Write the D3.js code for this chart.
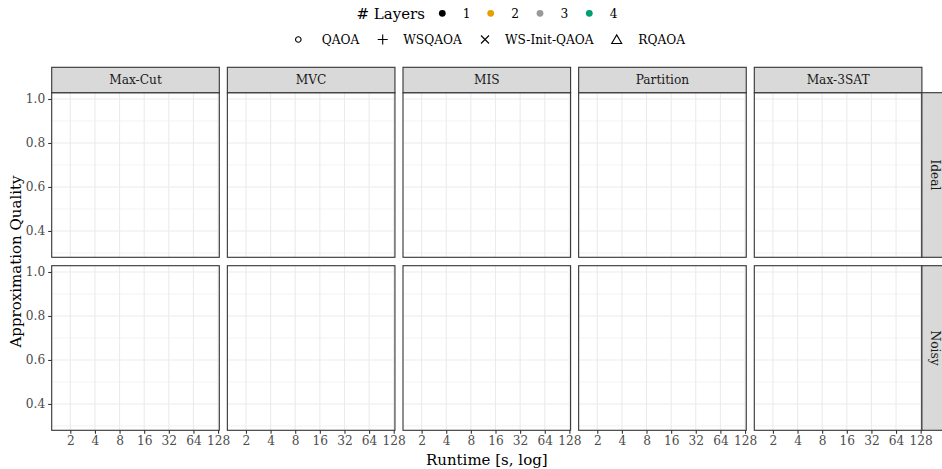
<!DOCTYPE html>
<html>
<head>
<meta charset="utf-8">
<script src="https://cdn.jsdelivr.net/npm/d3@7"></script>
<style>
  body { margin: 0; background: #fff; }
  svg { display: block; font-family: "DejaVu Serif", serif; }
</style>
</head>
<body>
<div id="chart"></div>
<script>
// facets
const problems = ["Max-Cut", "MVC", "MIS", "Partition", "Max-3SAT"];
const conditions = ["Ideal", "Noisy"];

// axes
const xTicks = [2, 4, 8, 16, 32, 64, 128];
const yTicks = [0.4, 0.6, 0.8, 1.0];
const yMinor = [0.3, 0.5, 0.7, 0.9];

// legends
const layers = ["1", "2", "3", "4"];
const layerColors = ["#000000", "#E69F00", "#999999", "#009E73"];
const methods = ["QAOA", "WSQAOA", "WS-Init-QAOA", "RQAOA"];

// the reference shows no plotted observations
const points = [];

const width = 942, height = 469;
const panelW = 167.6, panelH = 164.6, gapX = 8.05, gapY = 8.4;
const left0 = 51.7, top0 = 92.7;
const small = "12.2px", big = "15px";

const svg = d3.select("#chart").append("svg")
    .attr("width", width)
    .attr("height", height);

const x = d3.scaleLog().base(2)
    .domain([Math.pow(2, 0.244), Math.pow(2, 7.05)])
    .range([0, panelW]);
const y = d3.scaleLinear()
    .domain([0.2803, 1.0286])
    .range([panelH, 0]);

const color = d3.scaleOrdinal().domain(layers).range(layerColors);

// thin ggplot-like shapes (0 circle, 3 plus, 4 cross, 2 triangle)
function shapePath(method) {
    if (method === "QAOA") return d3.symbol().type(d3.symbolCircle).size(24)();
    if (method === "WSQAOA") return "M-5,0H5M0,-5V5";
    if (method === "WS-Init-QAOA") return "M-4,-4L4,4M-4,4L4,-4";
    return "M0,-4.6L5,4L-5,4Z";
}

conditions.forEach(function (cond, r) {
    problems.forEach(function (prob, c) {
        let px = left0 + c * (panelW + gapX);
        let py = top0 + r * (panelH + gapY);
        let g = svg.append("g").attr("transform", "translate(" + px + "," + py + ")");

        g.append("rect").attr("width", panelW).attr("height", panelH).attr("fill", "#fff");

        g.selectAll(".ymin").data(yMinor).enter().append("line")
            .attr("x1", 0).attr("x2", panelW)
            .attr("y1", d => y(d)).attr("y2", d => y(d))
            .attr("stroke", "#ebebeb").attr("stroke-width", 0.6);
        g.selectAll(".ymaj").data(yTicks).enter().append("line")
            .attr("x1", 0).attr("x2", panelW)
            .attr("y1", d => y(d)).attr("y2", d => y(d))
            .attr("stroke", "#ebebeb").attr("stroke-width", 1.1);
        g.selectAll(".xmaj").data(xTicks).enter().append("line")
            .attr("y1", 0).attr("y2", panelH)
            .attr("x1", d => x(d)).attr("x2", d => x(d))
            .attr("stroke", "#ebebeb").attr("stroke-width", 1.1);

        g.selectAll(".pt").data(points.filter(p => p.problem === prob && p.condition === cond))
            .enter().append("path")
            .attr("transform", d => "translate(" + x(d.runtime) + "," + y(d.quality) + ")")
            .attr("d", d => shapePath(d.method))
            .attr("fill", "none")
            .attr("stroke", d => color(d.layers));

        g.append("rect").attr("width", panelW).attr("height", panelH)
            .attr("fill", "none").attr("stroke", "#333333").attr("stroke-width", 1.1);

        // y axis on the first column
        if (c === 0) {
            let ya = g.append("g").call(d3.axisLeft(y).tickValues(yTicks).tickFormat(d3.format(".1f")).tickSize(3.5).tickPadding(3));
            ya.select(".domain").remove();
            ya.selectAll("line").attr("stroke", "#333333").attr("stroke-width", 1.1);
            ya.selectAll("text").attr("fill", "#4d4d4d").style("font-size", small)
                .style("font-family", "DejaVu Serif");
        }
        // x axis on the bottom row
        if (r === conditions.length - 1) {
            let xa = g.append("g").attr("transform", "translate(0," + panelH + ")")
                .call(d3.axisBottom(x).tickValues(xTicks).tickFormat(d3.format("d")).tickSize(3.5).tickPadding(3));
            xa.select(".domain").remove();
            xa.selectAll("line").attr("stroke", "#333333").attr("stroke-width", 1.1);
            xa.selectAll("text").attr("fill", "#4d4d4d").style("font-size", small)
                .style("font-family", "DejaVu Serif");
        }

        // top strip
        if (r === 0) {
            g.append("rect").attr("y", -25.4).attr("width", panelW).attr("height", 25.4)
                .attr("fill", "#d9d9d9").attr("stroke", "#333333").attr("stroke-width", 1.1);
            g.append("text").attr("x", panelW / 2).attr("y", -12.7).attr("dy", "0.35em")
                .attr("text-anchor", "middle").attr("fill", "#1a1a1a")
                .style("font-size", small).text(prob);
        }
        // right strip
        if (c === problems.length - 1) {
            g.append("rect").attr("x", panelW).attr("width", 30).attr("height", panelH)
                .attr("fill", "#d9d9d9").attr("stroke", "#333333").attr("stroke-width", 1.1);
            g.append("text")
                .attr("transform", "translate(" + (panelW + 13.5) + "," + (panelH / 2) + ") rotate(90)")
                .attr("dy", "0.35em").attr("text-anchor", "middle").attr("fill", "#1a1a1a")
                .style("font-size", small).text(cond);
        }
    });
});

// axis titles
let plotMidX = left0 + (problems.length * panelW + (problems.length - 1) * gapX) / 2;
let plotMidY = top0 + (conditions.length * panelH + gapY) / 2;
svg.append("text").attr("x", plotMidX).attr("y", 460).attr("dy", "0.35em")
    .attr("text-anchor", "middle").attr("fill", "#000").style("font-size", big)
    .text("Runtime [s, log]");
svg.append("text")
    .attr("transform", "translate(16," + plotMidY + ") rotate(-90)")
    .attr("dy", "0.35em").attr("text-anchor", "middle").attr("fill", "#000")
    .style("font-size", big).text("Approximation Quality");

// legend: layers
let lg1 = svg.append("g").attr("transform", "translate(0,13.3)");
lg1.append("text").attr("x", 356.5).attr("dy", "0.35em").style("font-size", big)
    .attr("fill", "#000").text("# Layers");
const layerX = [442.3, 490.7, 540, 589.3];
layers.forEach(function (l, i) {
    lg1.append("circle").attr("cx", layerX[i]).attr("r", 3.4).attr("fill", color(l));
    lg1.append("text").attr("x", layerX[i] + 20.5).attr("dy", "0.35em")
        .style("font-size", small).attr("fill", "#000").text(l);
});

// legend: methods
let lg2 = svg.append("g").attr("transform", "translate(0,39.5)");
const methodX = [298.3, 382.7, 485, 616.7];
const methodLabelX = [321.7, 403.3, 505, 638.3];
methods.forEach(function (m, i) {
    lg2.append("path").attr("transform", "translate(" + methodX[i] + ",0)")
        .attr("d", shapePath(m))
        .attr("fill", "none").attr("stroke", "#000").attr("stroke-width", 1.1);
    lg2.append("text").attr("x", methodLabelX[i]).attr("dy", "0.35em")
        .style("font-size", small).attr("fill", "#000").text(m);
});
</script>
</body>
</html>
